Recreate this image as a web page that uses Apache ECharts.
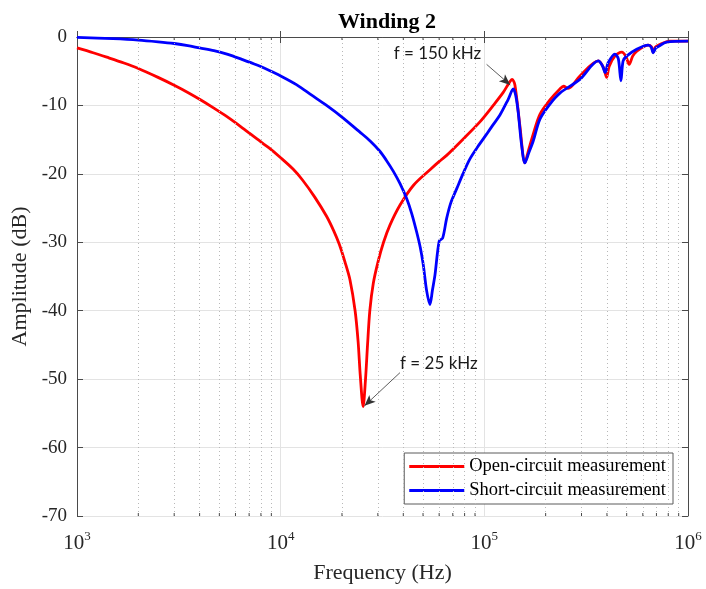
<!DOCTYPE html>
<html>
<head>
<meta charset="utf-8">
<title>Winding 2</title>
<script src="https://cdn.jsdelivr.net/npm/echarts@6/dist/echarts.min.js"></script>
<style>
  html, body { margin: 0; padding: 0; background: #ffffff; }
  #chart { width: 706px; height: 589px; }
</style>
</head>
<body>
<div id="chart"></div>
<script>
// Open-circuit measurement: frequency (Hz) and amplitude (dB)
const openFreq = [1000, 1200, 1400, 1700, 2000, 2500, 3000, 3500, 4000, 4700, 5450, 6500, 7650, 8800, 10000, 11500, 12800, 14700, 16800, 18200, 19400, 20700, 21900, 23200, 24000, 24600, 25400, 26100, 26700, 27400, 28500, 30100, 32000, 34400, 38500, 44800, 54100, 60500, 65300, 78800, 95100, 110600, 123800, 133000, 137000, 141300, 149500, 158200, 165000, 173800, 187500, 210000, 235000, 245000, 258000, 294600, 362500, 385000, 398400, 410000, 437500, 473500, 495000, 514500, 535000, 559500, 637800, 660000, 674900, 690000, 714000, 814700, 1000000];
const openDb = [-1.6, -2.3, -2.95, -3.8, -4.6, -5.9, -7.05, -8.1, -9.1, -10.4, -11.65, -13.3, -14.9, -16.25, -17.65, -19.3, -20.9, -23.4, -26.2, -28.3, -30.3, -32.9, -35.5, -40.0, -44.5, -49.5, -54.0, -50.0, -45.0, -40.0, -36.0, -32.8, -30.0, -27.5, -24.6, -21.7, -19.4, -18.1, -17.3, -14.9, -12.4, -10.0, -8.1, -6.6, -6.2, -7.0, -13.0, -18.4, -16.5, -14.2, -11.3, -9.2, -7.6, -7.2, -7.5, -5.7, -3.5, -4.5, -5.9, -4.3, -2.8, -2.2, -2.8, -4.0, -2.8, -2.1, -1.2, -1.4, -2.2, -1.5, -1.2, -0.6, -0.6];

// Short-circuit measurement: frequency (Hz) and amplitude (dB)
const shortFreq = [1000, 1500, 2000, 2500, 3000, 3500, 4000, 4700, 5450, 6500, 7650, 8800, 10000, 12000, 14200, 16800, 20000, 24500, 27500, 30700, 33000, 35700, 38500, 41550, 44000, 46530, 48500, 50150, 52100, 54080, 55600, 57220, 60050, 62410, 65310, 68500, 73120, 78500, 84990, 93000, 102600, 110500, 119300, 131000, 138700, 142500, 146700, 152000, 158200, 165000, 173800, 187500, 210000, 235000, 294600, 362500, 380000, 392000, 405000, 437500, 455000, 468400, 480000, 499400, 559500, 637800, 660000, 674900, 695000, 714000, 785000, 1000000];
const shortDb = [-0.05, -0.25, -0.45, -0.7, -0.95, -1.25, -1.6, -2.0, -2.5, -3.3, -4.1, -4.9, -5.7, -7.0, -8.5, -10.0, -11.7, -13.9, -15.2, -16.7, -18.0, -19.6, -21.4, -23.6, -25.8, -28.5, -30.8, -33.3, -37.1, -39.1, -37.0, -34.8, -29.8, -29.4, -26.5, -24.2, -22.2, -20.0, -17.8, -16.0, -14.2, -12.8, -11.4, -9.1, -7.6, -8.5, -11.0, -15.5, -18.4, -17.0, -15.2, -12.0, -9.8, -8.2, -6.2, -3.5, -4.2, -5.2, -3.8, -2.5, -3.2, -6.4, -3.5, -2.8, -1.8, -1.2, -1.5, -2.3, -1.6, -1.4, -0.75, -0.6];

// Axis ranges and ticks
const freqMin = 1000;
const freqMax = 1000000;
const dbMin = -70;
const dbMax = 0;
const dbStep = 10;
// Minor grid / minor tick positions (2..9 within each decade)
const minorFreqs = [2000, 3000, 4000, 5000, 6000, 7000, 8000, 9000,
                    20000, 30000, 40000, 50000, 60000, 70000, 80000, 90000,
                    200000, 300000, 400000, 500000, 600000, 700000, 800000, 900000];

// Annotations: text, text anchor, arrow tail, arrow head
const noteText = ['f = 150 kHz', 'f = 25 kHz'];
const notePos = [[58880, -2.4], [59840, -47.7]];
const arrowFrom = [[102600, -4.0], [38530, -49.05]];
const arrowTo = [[134000, -7.0], [25800, -53.9]];

const zip = (xs, ys) => xs.map((x, i) => [x, ys[i]]);

const serif = '"Liberation Serif", "Times New Roman", serif';
const axisColor = '#4a4a4a';
const textColor = '#262626';

const chart = echarts.init(document.getElementById('chart'), null, { renderer: 'canvas' });

// short inward minor ticks on the bottom and top box edges
function renderMinorTick(params, api) {
  const f = api.value(0);
  const bottom = api.coord([f, dbMin]);
  const top = api.coord([f, dbMax]);
  const style = { stroke: axisColor, lineWidth: 1 };
  return {
    type: 'group',
    children: [
      { type: 'line', shape: { x1: bottom[0], y1: bottom[1], x2: bottom[0], y2: bottom[1] - 3 }, style },
      { type: 'line', shape: { x1: top[0], y1: top[1], x2: top[0], y2: top[1] + 3 }, style }
    ]
  };
}

chart.setOption({
  animation: false,
  backgroundColor: '#ffffff',
  title: {
    text: 'Winding 2',
    left: 382,
    top: 6,
    textAlign: 'center',
    textStyle: { fontFamily: serif, fontWeight: 'bold', fontSize: 22, color: '#000000' }
  },
  grid: { left: 77, right: 18, top: 37, bottom: 70, containLabel: false },
  legend: {
    data: ['Open-circuit measurement', 'Short-circuit measurement'],
    orient: 'vertical',
    right: 33,
    top: 453,
    padding: [3, 7, 3, 5],
    itemGap: 3,
    itemWidth: 55,
    itemHeight: 3,
    icon: 'rect',
    backgroundColor: '#ffffff',
    borderColor: '#5a5a5a',
    borderWidth: 1,
    borderRadius: 0,
    selectedMode: false,
    textStyle: { fontFamily: serif, fontSize: 18.5, color: '#000000', lineHeight: 21 }
  },
  xAxis: [
    {
      type: 'log',
      logBase: 10,
      min: freqMin,
      max: freqMax,
      position: 'bottom',
      name: 'Frequency (Hz)',
      nameLocation: 'middle',
      nameGap: 46,
      nameTextStyle: { fontFamily: serif, fontSize: 22, color: textColor },
      axisLine: { show: true, lineStyle: { color: axisColor, width: 1 } },
      axisTick: { show: true, inside: true, length: 6, lineStyle: { color: axisColor } },
      minorTick: { show: false },
      axisLabel: {
        margin: 14,
        formatter: v => '{b|10}{s|' + Math.round(Math.log10(v)) + '}',
        rich: {
          b: { fontFamily: serif, fontSize: 21, color: textColor },
          s: { fontFamily: serif, fontSize: 13, color: textColor, padding: [0, 0, 14, 0] }
        }
      },
      splitLine: { show: true, lineStyle: { color: '#e3e3e3', width: 1 } },
      minorSplitLine: { show: false }
    },
    {
      type: 'log',
      logBase: 10,
      min: freqMin,
      max: freqMax,
      position: 'top',
      axisLine: { show: true, lineStyle: { color: axisColor, width: 1 } },
      axisTick: { show: true, inside: true, length: 6, lineStyle: { color: axisColor } },
      minorTick: { show: false },
      axisLabel: { show: false },
      splitLine: { show: false }
    }
  ],
  yAxis: [
    {
      type: 'value',
      min: dbMin,
      max: dbMax,
      interval: dbStep,
      position: 'left',
      name: 'Amplitude (dB)',
      nameLocation: 'middle',
      nameGap: 37,
      nameRotate: 90,
      nameTextStyle: { fontFamily: serif, fontSize: 22, color: textColor },
      axisLine: { show: true, lineStyle: { color: axisColor, width: 1 } },
      axisTick: { show: true, inside: true, length: 6, lineStyle: { color: axisColor } },
      axisLabel: { margin: 10, fontFamily: serif, fontSize: 19, color: textColor },
      splitLine: { show: true, lineStyle: { color: '#e3e3e3', width: 1 } }
    },
    {
      type: 'value',
      min: dbMin,
      max: dbMax,
      interval: dbStep,
      position: 'right',
      axisLine: { show: true, lineStyle: { color: axisColor, width: 1 } },
      axisTick: { show: true, inside: true, length: 6, lineStyle: { color: axisColor } },
      axisLabel: { show: false },
      splitLine: { show: false }
    }
  ],
  series: [
    {
      // dotted minor grid lines
      name: 'minor-grid',
      type: 'line',
      xAxisIndex: 0,
      yAxisIndex: 0,
      data: [],
      silent: true,
      z: 1,
      markLine: {
        silent: true,
        symbol: 'none',
        animation: false,
        label: { show: false },
        emphasis: { disabled: true },
        lineStyle: { color: '#b8b8b8', width: 1, type: [1, 3] },
        data: minorFreqs.map(f => ({ xAxis: f }))
      }
    },
    {
      name: 'minor-ticks',
      type: 'custom',
      xAxisIndex: 0,
      yAxisIndex: 0,
      silent: true,
      z: 5,
      data: minorFreqs.map(f => [f, dbMin]),
      renderItem: renderMinorTick
    },
    {
      name: 'Open-circuit measurement',
      type: 'line',
      xAxisIndex: 0,
      yAxisIndex: 0,
      data: zip(openFreq, openDb),
      showSymbol: false,
      symbol: 'none',
      smooth: 0.3,
      lineStyle: { color: '#ff0000', width: 2.8 },
      itemStyle: { color: '#ff0000' },
      emphasis: { disabled: true },
      z: 3,
      markLine: {
        silent: true,
        symbol: ['none', 'arrow'],
        symbolSize: [7, 11],
        label: { show: false },
        emphasis: { disabled: true },
        lineStyle: { color: '#333333', width: 0.8, type: 'solid' },
        data: arrowFrom.map((p, i) => [{ coord: p }, { coord: arrowTo[i] }])
      },
      markPoint: {
        silent: true,
        symbol: 'circle',
        symbolSize: 0,
        emphasis: { disabled: true },
        label: {
          show: true,
          position: 'inside',
          fontFamily: 'Lato, "Open Sans", sans-serif',
          fontSize: 17,
          color: '#1a1a1a'
        },
        data: notePos.map((p, i) => ({ coord: p, value: noteText[i], label: { formatter: noteText[i] } }))
      }
    },
    {
      name: 'Short-circuit measurement',
      type: 'line',
      xAxisIndex: 0,
      yAxisIndex: 0,
      data: zip(shortFreq, shortDb),
      showSymbol: false,
      symbol: 'none',
      smooth: 0.3,
      lineStyle: { color: '#0000ff', width: 2.8 },
      itemStyle: { color: '#0000ff' },
      emphasis: { disabled: true },
      z: 4
    }
  ]
});
</script>
</body>
</html>
